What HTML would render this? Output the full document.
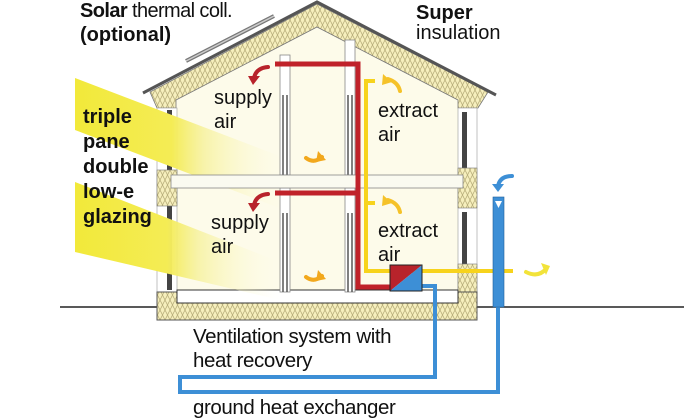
<!DOCTYPE html>
<html><head><meta charset="utf-8"><style>
html,body{margin:0;padding:0;background:#fff;}
svg{display:block;}
text{font-family:"Liberation Sans",sans-serif;fill:#111;}
</style></head><body>
<svg width="684" height="418" viewBox="0 0 684 418" xmlns="http://www.w3.org/2000/svg">
<defs>
<pattern id="ins" width="10" height="10" patternUnits="userSpaceOnUse">
<rect width="10" height="10" fill="#f6efbd"/>
<path d="M0 0 L5 10 L10 0 M0 10 L5 0 L10 10" stroke="#b8ae7a" stroke-width="0.8" fill="none"/>
</pattern>
<linearGradient id="beam" x1="0" y1="0" x2="1" y2="0">
<stop offset="0" stop-color="#f2e93a"/>
<stop offset="0.45" stop-color="#f4ec55"/>
<stop offset="0.6" stop-color="#f6f19a" stop-opacity="0.8"/>
<stop offset="1" stop-color="#fffde8" stop-opacity="0"/>
</linearGradient>
</defs>

<line x1="60" y1="307" x2="684" y2="307" stroke="#222" stroke-width="1.5"/>

<polygon points="172,100 317,27 462,100 462,296 172,296" fill="#fdfbea"/>

<polygon points="150,92 317,4 488,92 478,108 458,108 458,100 317,27 176,100 176,108 157,108" fill="url(#ins)" stroke="#777" stroke-width="0.8"/>
<polyline points="143,93 317,2 496,95" fill="none" stroke="#555" stroke-width="3"/>
<line x1="186" y1="61" x2="274" y2="16" stroke="#777" stroke-width="4"/>
<line x1="186" y1="61" x2="274" y2="16" stroke="#ccc" stroke-width="1.5"/>

<rect x="157" y="108" width="20" height="185" fill="#fff" stroke="#999" stroke-width="0.6"/>
<rect x="167" y="110" width="5" height="60" fill="#444"/>
<rect x="167" y="206" width="5" height="84" fill="#444"/>
<rect x="157" y="170" width="20" height="36" fill="url(#ins)" stroke="#777" stroke-width="0.6"/>
<rect x="458" y="108" width="19" height="185" fill="#fff" stroke="#999" stroke-width="0.6"/>
<rect x="462" y="112" width="5" height="56" fill="#444"/>
<rect x="462" y="212" width="5" height="52" fill="#444"/>
<rect x="458" y="168" width="19" height="40" fill="url(#ins)" stroke="#777" stroke-width="0.6"/>
<rect x="458" y="264" width="19" height="30" fill="url(#ins)" stroke="#777" stroke-width="0.6"/>

<rect x="157" y="292" width="320" height="28" fill="url(#ins)" stroke="#555" stroke-width="1"/>
<rect x="177" y="290" width="281" height="13" fill="#fff" stroke="#333" stroke-width="1"/>

<polygon points="75,78 290,160 290,212 75,130" fill="url(#beam)"/>
<polygon points="75,182 280,262 280,300 75,252" fill="url(#beam)"/>

<g fill="#fff" stroke="#888" stroke-width="0.8">
<rect x="280" y="55" width="10" height="120"/>
<rect x="345" y="40" width="10" height="135"/>
<rect x="280" y="188" width="10" height="104"/>
<rect x="345" y="188" width="10" height="104"/>
</g>
<g stroke="#555" stroke-width="1.5">
<line x1="283" y1="95" x2="283" y2="175"/><line x1="287" y1="95" x2="287" y2="175"/>
<line x1="348" y1="95" x2="348" y2="175"/><line x1="352" y1="95" x2="352" y2="175"/>
<line x1="283" y1="213" x2="283" y2="292"/><line x1="287" y1="213" x2="287" y2="292"/>
<line x1="348" y1="213" x2="348" y2="292"/><line x1="352" y1="213" x2="352" y2="292"/>
</g>

<rect x="171" y="175" width="292" height="13" fill="#fafaf0" stroke="#888" stroke-width="0.8"/>

<polyline points="275,64 358,64 358,287 390,287" fill="none" stroke="#c0222a" stroke-width="5"/>
<line x1="275" y1="193" x2="358" y2="193" stroke="#c0222a" stroke-width="5"/>
<polyline points="375,81 366,81 366,271 513,271" fill="none" stroke="#f7d31c" stroke-width="4"/>
<polyline points="375,203 366,203" fill="none" stroke="#f7d31c" stroke-width="4"/>

<polyline points="420,286 435,286 435,377 180,377 180,392 498,392 498,300" fill="none" stroke="#3d8fd6" stroke-width="4"/>
<rect x="493" y="197" width="11" height="110" fill="#3d8fd6" stroke="#1f5f99" stroke-width="0.6"/>
<polygon points="495,201 502,201 498.5,208" fill="#fff"/>

<polygon points="390,265 422,265 390,291" fill="#b8232b"/>
<polygon points="422,265 422,291 390,291" fill="#3d8fd6"/>
<rect x="390" y="265" width="32" height="26" fill="none" stroke="#222" stroke-width="1"/>

<g fill="none" stroke-linecap="round">
<path d="M268,67 Q256,68 254,78" stroke="#b8232b" stroke-width="4"/>
<path d="M268,194 Q256,195 254,205" stroke="#b8232b" stroke-width="4"/>
<path d="M400,91 Q398,82 388,79" stroke="#f5c229" stroke-width="4"/>
<path d="M400,212 Q398,203 388,200" stroke="#f5c229" stroke-width="4"/>
<path d="M306,158 Q314,164 322,157" stroke="#f2a81d" stroke-width="4"/>
<path d="M306,277 Q314,283 322,276" stroke="#f2a81d" stroke-width="4"/>
<path d="M526,272 Q538,278 546,269" stroke="#f2e33a" stroke-width="4"/>
<path d="M512,176 Q500,176 498,186" stroke="#3d8fd6" stroke-width="4"/>
</g>
<g>
<polygon points="248,76 260,76 253,85" fill="#b8232b"/>
<polygon points="248,203 260,203 253,212" fill="#b8232b"/>
<polygon points="383,74 392,82 382,85" fill="#f5c229"/>
<polygon points="383,195 392,203 382,206" fill="#f5c229"/>
<polygon points="318,151 326,160 316,162" fill="#f2a81d"/>
<polygon points="318,270 326,279 316,281" fill="#f2a81d"/>
<polygon points="541,263 550,266 546,275" fill="#f2e33a"/>
<polygon points="492,184 504,184 498,192" fill="#3d8fd6"/>
</g>

<text x="80" y="17" font-size="20" letter-spacing="-0.6"><tspan font-weight="bold">Solar</tspan> thermal coll.</text>
<text x="80" y="41" font-size="20" font-weight="bold">(optional)</text>
<text x="416" y="19" font-size="20" font-weight="bold">Super</text>
<text x="416" y="39" font-size="20">insulation</text>
<g font-size="20" font-weight="bold">
<text x="83" y="123">triple</text>
<text x="83" y="148">pane</text>
<text x="83" y="173">double</text>
<text x="83" y="198">low-e</text>
<text x="83" y="223">glazing</text>
</g>
<g font-size="20">
<text x="214" y="104">supply</text><text x="214" y="128">air</text>
<text x="211" y="229">supply</text><text x="211" y="253">air</text>
<text x="378" y="117">extract</text><text x="378" y="141">air</text>
<text x="378" y="237">extract</text><text x="378" y="261">air</text>
</g>
<g font-size="20.5">
<text x="193" y="343" letter-spacing="-0.4">Ventilation system with</text>
<text x="193" y="367" letter-spacing="-0.4">heat recovery</text>
<text x="193" y="414" letter-spacing="-0.4">ground heat exchanger</text>
</g>
</svg>
</body></html>
